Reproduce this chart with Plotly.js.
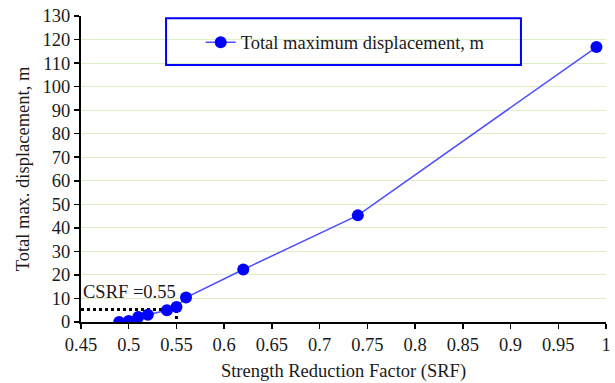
<!DOCTYPE html>
<html>
<head>
<meta charset="utf-8">
<script src="https://cdn.plot.ly/plotly-3.0.1.min.js"></script>
<style>html,body{margin:0;padding:0;background:#fff;}#chart{width:615px;height:383px;}</style>
</head>
<body>
<div id="chart"></div>
<script>
// Data
const srf = [0.49, 0.50, 0.51, 0.52, 0.54, 0.55, 0.56, 0.62, 0.74, 0.99];
const displacement = [0.0, 0.4, 2.1, 3.1, 5.0, 6.4, 10.4, 22.3, 45.3, 116.8];
const seriesName = 'Total maximum displacement, m';
const csrfLineX = [0.45, 0.55, 0.55];
const csrfLineY = [5.3, 5.3, 0];
const csrfLabel = 'CSRF =0.55';
const xTickVals = [0.45, 0.5, 0.55, 0.6, 0.65, 0.7, 0.75, 0.8, 0.85, 0.9, 0.95, 1];
const yTickVals = [0, 10, 20, 30, 40, 50, 60, 70, 80, 90, 100, 110, 120, 130];

const font = 'Liberation Serif, Times New Roman, serif';
const fs = 18.5;

const traces = [
  {
    x: csrfLineX, y: csrfLineY, mode: 'lines', showlegend: false, hoverinfo: 'skip',
    line: {color: '#000', width: 3, dash: 'dot'}
  },
  {
    x: srf, y: displacement, mode: 'lines+markers', name: seriesName,
    line: {color: '#4d4dff', width: 1.5},
    marker: {color: '#0000ff', size: 12}
  }
];

const layout = {
  width: 615, height: 383,
  margin: {l: 81, r: 9, t: 16, b: 61},
  paper_bgcolor: '#fff', plot_bgcolor: '#fff',
  font: {family: font, color: '#1a1a1a', size: fs},
  showlegend: true,
  legend: {
    x: 0.228, y: 0.975, xanchor: 'left', yanchor: 'top',
    bgcolor: 'rgba(0,0,0,0)', borderwidth: 0,
    font: {family: font, size: fs, color: '#1a1a1a'}
  },
  xaxis: {
    range: [0.45, 1], tickvals: xTickVals, ticktext: xTickVals.map(String),
    showgrid: false, zeroline: false,
    showline: true, linecolor: '#000', linewidth: 2,
    ticks: 'outside', ticklen: 5, tickcolor: '#000', tickwidth: 1.5,
    tickfont: {family: font, size: fs, color: '#1a1a1a'},
    title: {text: 'Strength Reduction Factor (SRF)', font: {family: font, size: fs, color: '#1a1a1a'}, standoff: 10},
    fixedrange: true
  },
  yaxis: {
    range: [0, 130], tickvals: yTickVals,
    showgrid: true, gridcolor: '#ddedc4', gridwidth: 1, zeroline: false,
    showline: true, linecolor: '#000', linewidth: 2,
    ticks: 'outside', ticklen: 5, tickcolor: '#000', tickwidth: 1.5,
    tickfont: {family: font, size: fs, color: '#1a1a1a'},
    title: {text: 'Total max. displacement, m', font: {family: font, size: fs, color: '#1a1a1a'}, standoff: 8},
    fixedrange: true
  },
  shapes: [
    {type: 'rect', xref: 'paper', yref: 'paper', x0: 0.162, x1: 0.838, y0: 0.84, y1: 0.993,
     line: {color: '#0000ff', width: 2}, fillcolor: 'rgba(0,0,0,0)', layer: 'above'}
  ],
  annotations: [
    {x: csrfLineX[0], y: 12.8, xref: 'x', yref: 'y', text: csrfLabel, showarrow: false,
     xanchor: 'left', yanchor: 'middle', xshift: 0,
     font: {family: font, size: fs, color: '#1a1a1a'}}
  ]
};

Plotly.newPlot('chart', traces, layout, {displayModeBar: false, staticPlot: true});
</script>
</body>
</html>
